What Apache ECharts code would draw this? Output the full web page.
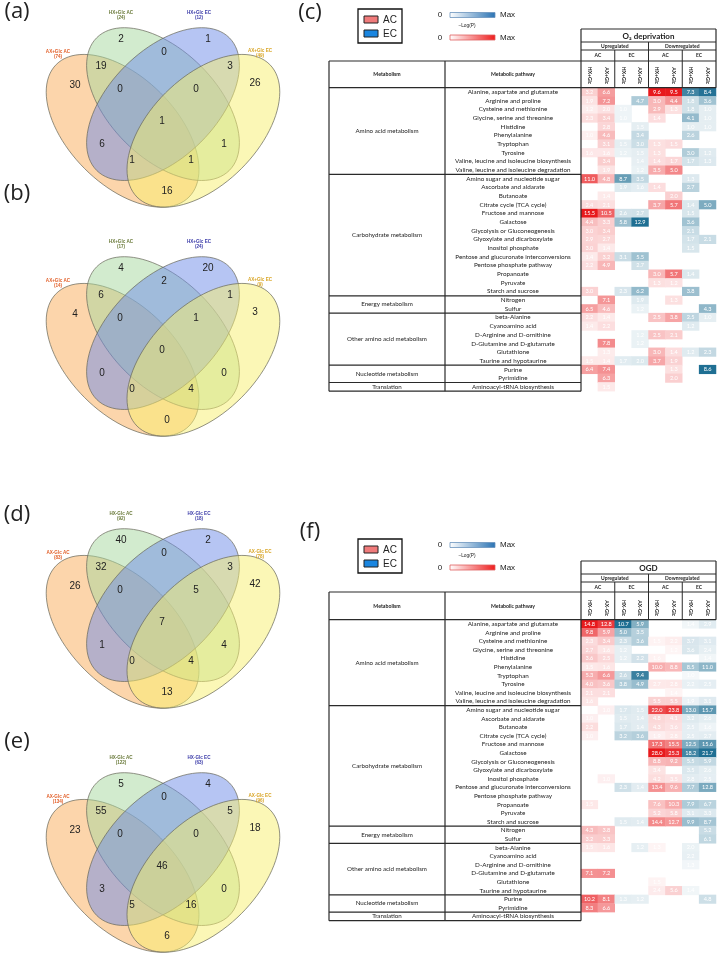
<!DOCTYPE html>
<html><head><meta charset="utf-8">
<script src="https://cdn.jsdelivr.net/npm/echarts@6/dist/echarts.min.js"></script>
<style>html,body{margin:0;padding:0;background:#fff}#c{width:717px;height:955px}</style>
</head><body><div id="c"></div>
<script>
// ---------------- DATA ----------------
const pathways = ['Alanine, aspartate and glutamate','Arginine and proline','Cysteine and methionine','Glycine, serine and threonine','Histidine','Phenylalanine','Tryptophan','Tyrosine','Valine, leucine and isoleucine biosynthesis','Valine, leucine and isoleucine degradation','Amino sugar and nucleotide sugar','Ascorbate and aldarate','Butanoate','Citrate cycle (TCA cycle)','Fructose and mannose','Galactose','Glycolysis or Gluconeogenesis','Glyoxylate and dicarboxylate','Inositol phosphate','Pentose and glucuronate interconversions','Pentose phosphate pathway','Propanoate','Pyruvate','Starch and sucrose','Nitrogen','Sulfur','beta-Alanine','Cyanoamino acid','D-Arginine and D-ornithine','D-Glutamine and D-glutamate','Glutathione','Taurine and hypotaurine','Purine','Pyrimidine','Aminoacyl-tRNA biosynthesis'];
const metabolismGroups = ['Amino acid metabolism','Carbohydrate metabolism','Energy metabolism','Other amino acid metabolism','Nucleotide metabolism','Translation'];
const metabolismGroupSizes = [10,14,2,6,2,1];
const colLabelsO2 = ['HX+Glc','AX+Glc','HX+Glc','AX+Glc','HX+Glc','AX+Glc','HX+Glc','AX+Glc'];
const colLabelsOGD = ['HX-Glc','AX-Glc','HX-Glc','AX-Glc','HX-Glc','AX-Glc','HX-Glc','AX-Glc'];
const _ = null;
// O2 deprivation: -Log(P) values
const o2UpAcHx = [3.2,1.9,1.2,2.3,_,1.0,_,1.6,_,_,11.0,_,_,2.4,15.5,4.4,3.0,2.9,3.0,1.4,2.2,_,_,3.0,_,6.5,2.2,1.4,_,_,_,1.5,6.4,_,_];
const o2UpAcAx = [6.6,7.2,2.0,3.4,2.8,4.6,3.1,1.6,3.4,1.9,4.8,_,1.4,2.1,10.5,3.3,3.4,2.7,1.4,3.2,4.9,_,_,_,7.1,4.6,1.4,2.2,_,7.8,1.3,1.4,7.4,6.3,1.5];
const o2UpEcHx = [_,_,1.0,1.0,_,_,1.5,1.2,_,_,8.7,1.9,_,_,2.6,5.8,_,_,_,3.1,_,_,_,2.3,_,_,_,_,_,_,_,1.7,_,_,_];
const o2UpEcAx = [_,4.7,_,_,1.5,3.4,3.0,1.5,1.4,1.2,3.5,1.6,_,_,2.7,12.9,_,_,_,5.5,2.7,_,_,6.2,1.9,1.2,_,_,1.2,1.2,_,2.0,_,_,_];
const o2DnAcHx = [9.6,3.0,2.9,1.4,_,_,1.3,1.3,1.4,3.5,_,1.4,_,3.7,_,_,_,_,_,_,_,3.0,1.3,_,_,_,2.5,_,2.5,_,3.0,3.7,_,_,_];
const o2DnAcAx = [9.5,4.4,1.3,_,_,_,1.5,_,1.7,5.0,_,_,2.0,5.7,_,_,_,_,_,_,_,5.7,1.2,_,1.3,_,3.8,_,2.1,_,1.4,1.9,1.3,2.0,_];
const o2DnEcHx = [7.3,1.8,1.8,4.1,1.0,2.6,_,3.0,1.7,_,1.3,2.7,_,1.4,1.5,3.6,2.1,1.7,1.5,_,_,1.4,_,3.8,_,_,2.5,1.2,_,_,1.2,_,_,_,_];
const o2DnEcAx = [8.4,3.6,1.0,1.0,1.0,_,_,1.2,1.3,_,_,_,_,5.0,_,_,_,2.1,_,_,_,_,_,_,_,4.3,1.0,_,_,_,2.3,_,8.6,_,_];
// OGD: -Log(P) values
const ogdUpAcHx = [14.8,9.8,2.3,2.7,3.6,1.5,5.3,4.0,2.1,1.6,_,1.0,2.2,1.0,_,_,_,_,_,_,_,1.5,_,_,4.3,3.2,1.5,_,_,7.1,_,_,10.2,8.3,_];
const ogdUpAcAx = [12.8,5.9,3.4,1.6,2.5,1.6,6.6,3.6,2.1,_,1.0,_,_,_,_,_,_,_,1.0,_,_,_,_,_,3.8,3.3,1.6,_,_,7.2,_,_,8.1,6.6,_];
const ogdUpEcHx = [10.7,5.0,2.3,1.2,1.2,_,2.6,3.8,_,_,1.7,1.5,1.7,3.2,_,_,_,_,_,2.3,_,_,_,1.5,_,_,_,_,_,_,_,_,1.3,_,_];
const ogdUpEcAx = [5.9,3.5,3.6,_,2.2,_,9.4,4.9,_,_,1.5,1.4,1.4,3.6,_,_,_,_,_,1.4,_,_,_,1.4,_,_,1.2,_,_,_,_,_,1.2,_,_];
const ogdDnAcHx = [_,_,1.5,_,1.6,10.0,_,2.7,_,5.5,22.0,4.8,4.3,1.9,17.3,28.0,8.8,3.4,4.2,13.4,_,7.6,5.2,14.4,_,_,1.3,_,_,_,1.5,2.4,_,_,_];
const ogdDnAcAx = [_,_,2.2,1.2,_,8.8,_,2.8,1.4,5.5,23.8,4.1,3.6,2.8,15.5,25.3,9.2,_,3.5,9.6,_,10.3,5.8,12.7,_,_,_,_,_,_,_,5.6,_,_,_];
const ogdDnEcHx = [1.4,_,3.7,3.6,_,8.5,1.0,2.2,_,1.9,13.0,3.2,2.5,2.5,12.5,18.2,5.5,3.5,2.8,7.7,_,7.9,3.1,9.9,_,_,2.0,2.2,1.3,_,_,1.4,_,_,_];
const ogdDnEcAx = [2.9,_,3.1,2.4,1.4,11.0,_,2.5,_,3.1,15.7,2.6,1.6,2.7,15.6,21.7,5.9,2.6,2.5,12.8,_,6.7,3.3,8.7,5.2,6.1,_,_,_,_,_,_,4.8,_,_];
// Venn counts, regions: A, B, C, D, AB, BC, CD, ABC, BCD, ABCD, AC, BD, ACD, ABD, AD
const vennCountsA = [30,2,1,26,19,0,3,0,0,1,6,1,1,1,16];
const vennCountsB = [4,4,20,3,6,2,1,0,1,0,0,0,0,4,0];
const vennCountsD = [26,40,2,42,32,0,3,0,5,7,1,4,0,4,13];
const vennCountsE = [23,5,4,18,55,0,5,0,0,46,3,0,5,16,6];
const vennSetNamesO2 = ['AX+Glc AC','HX+Glc AC','HX+Glc EC','AX+Glc EC'];
const vennSetNamesOGD = ['AX-Glc AC','HX-Glc AC','HX-Glc EC','AX-Glc EC'];
const vennSetSizesA = [74,24,12,49];
const vennSetSizesB = [14,17,24,9];
const vennSetSizesD = [83,92,18,78];
const vennSetSizesE = [134,122,63,96];

// ---------------- LAYOUT ----------------
const FONT_T = 'Lato, "Open Sans", sans-serif';
const FONT_V = '"Liberation Sans", Arial, sans-serif';
const graphics = [];
function txt(x,y,t,size,opt){ opt=opt||{};
  graphics.push({type:'text',x:x,y:y,silent:true,z:opt.z||10,style:{text:t,fontSize:size,fontFamily:opt.family||FONT_T,fontWeight:opt.weight||'normal',fill:opt.color||'#222',align:opt.align||'center',verticalAlign:'middle'}});
}
function line(x1,y1,x2,y2,w,c){ graphics.push({type:'line',silent:true,z:20,shape:{x1:x1,y1:y1,x2:x2,y2:y2},style:{stroke:c||'#2a2a2a',lineWidth:w||1.1}}); }

// Venn diagrams
const vennRegionPos = [[75,85],[121,39],[208,39],[255,83],[101,66],[164,52],[230,66],[120,89],[196,89],[162,121],[102,144],[224,144],[132,160],[191,160],[167,191]];
const vennEll = [[122.6,130.8,Math.PI/4],[163,104.1,Math.PI/4],[163,104.1,-Math.PI/4],[203.4,130.8,-Math.PI/4]];
const vennFill = ['rgba(249,172,88,0.5)','rgba(166,216,158,0.5)','rgba(110,140,232,0.5)','rgba(247,240,110,0.5)'];
const vennLabelColor = ['#e2602a','#6a7a3a','#3a3aa8','#d8a423'];
const vennLabelPos = [[58,52],[121,13],[199,13],[260,51]];
const EA = 93.8, EB = 53.6;
function ellPts(cx,cy,a,b,ang){ const p=[]; for(let i=0;i<96;i++){const t=i/96*2*Math.PI; const x=a*Math.cos(t), y=b*Math.sin(t); p.push([cx+x*Math.cos(ang)-y*Math.sin(ang), cy+x*Math.sin(ang)+y*Math.cos(ang)]);} return p; }
const venns = [
  {dy:0, letter:'(a)', ly:12, counts:vennCountsA, names:vennSetNamesO2, sizes:vennSetSizesA},
  {dy:229, letter:'(b)', ly:194, counts:vennCountsB, names:vennSetNamesO2, sizes:vennSetSizesB},
  {dy:501, letter:'(d)', ly:515, counts:vennCountsD, names:vennSetNamesOGD, sizes:vennSetSizesD},
  {dy:745, letter:'(e)', ly:742, counts:vennCountsE, names:vennSetNamesOGD, sizes:vennSetSizesE}
];
venns.forEach(v=>{
  txt(17, v.ly, v.letter, 22, {family:'"Open Sans", Lato, sans-serif'});
  vennEll.forEach((e,i)=>{ graphics.push({type:'polygon',silent:true,z:1,shape:{points:ellPts(e[0],e[1]+v.dy,EA,EB,e[2])},style:{fill:vennFill[i],stroke:'rgba(105,105,90,0.9)',lineWidth:0.8}}); });
  v.counts.forEach((c,i)=>{ txt(vennRegionPos[i][0], vennRegionPos[i][1]+v.dy, String(c), 10, {family:FONT_V}); });
  v.names.forEach((n,i)=>{ txt(vennLabelPos[i][0], vennLabelPos[i][1]+v.dy, n, 4.6, {family:FONT_V, color:vennLabelColor[i], weight:'bold'}); txt(vennLabelPos[i][0], vennLabelPos[i][1]+v.dy+5, '('+v.sizes[i]+')', 4.6, {family:FONT_V, color:vennLabelColor[i], weight:'bold'}); });
});

// Tables
const tables = [
  {letter:'(c)', letterY:13, title:'O₂ deprivation', dy:0, boxTop:29, l1:42, l2:50, top:61, dataTop:87.7, rowH:8.67, cols:[o2UpAcHx,o2UpAcAx,o2UpEcHx,o2UpEcAx,o2DnAcHx,o2DnAcAx,o2DnEcHx,o2DnEcAx], colLabels:colLabelsO2},
  {letter:'(f)', letterY:532, title:'OGD', dy:530, boxTop:561, l1:574, l2:582, top:592, dataTop:619.7, rowH:8.6, cols:[ogdUpAcHx,ogdUpAcAx,ogdUpEcHx,ogdUpEcAx,ogdDnAcHx,ogdDnAcAx,ogdDnEcHx,ogdDnEcAx], colLabels:colLabelsOGD}
];
const XL = 329, X1 = 445, X2 = 581, XR = 716;
const CW = (XR-X2)/8;
const RED = '#e8191c', BLUE = '#1f6f93';
const grids=[], xAxes=[], yAxes=[], series=[], visualMaps=[];
tables.forEach((T,ti)=>{
  const n = pathways.length, bottom = T.dataTop + n*T.rowH;
  txt(310, T.letterY, T.letter, 22, {family:'"Open Sans", Lato, sans-serif'});
  // legend box
  const ly = 9+T.dy;
  graphics.push({type:'rect',silent:true,shape:{x:358,y:ly,width:44,height:34},style:{fill:'#fff',stroke:'#111',lineWidth:1.3}});
  graphics.push({type:'rect',silent:true,shape:{x:364,y:ly+7,width:14,height:7},style:{fill:'#f07b7b',stroke:'#222',lineWidth:1}});
  graphics.push({type:'rect',silent:true,shape:{x:364,y:ly+21,width:14,height:7},style:{fill:'#1a86e0',stroke:'#222',lineWidth:1}});
  txt(383, ly+11, 'AC', 10, {family:FONT_V, align:'left'});
  txt(383, ly+25, 'EC', 10, {family:FONT_V, align:'left'});
  // gradient legends
  graphics.push({type:'rect',silent:true,shape:{x:450,y:ly+3.5,width:45,height:5},style:{fill:new echarts.graphic.LinearGradient(0,0,1,0,[{offset:0,color:'#ffffff'},{offset:1,color:'#2b73b3'}]),stroke:'#6b93bd',lineWidth:0.8}});
  graphics.push({type:'rect',silent:true,shape:{x:450,y:ly+26,width:45,height:5},style:{fill:new echarts.graphic.LinearGradient(0,0,1,0,[{offset:0,color:'#ffffff'},{offset:1,color:'#ee1c1c'}]),stroke:'#e06060',lineWidth:0.8}});
  txt(440, ly+5.5, '0', 8, {family:FONT_V});
  txt(440, ly+28.5, '0', 8, {family:FONT_V});
  txt(500, ly+5.5, 'Max', 8, {family:FONT_V, align:'left'});
  txt(500, ly+28.5, 'Max', 8, {family:FONT_V, align:'left'});
  txt(467, ly+17, '−Log(P)', 4.8, {family:FONT_V});
  // header box
  const bx = T.boxTop;
  txt((X2+XR)/2, (bx+T.l1)/2+0.5, T.title, 8, {weight:'bold'});
  txt(X2+CW*2, (T.l1+T.l2)/2, 'Upregulated', 5, {weight:'bold'});
  txt(X2+CW*6, (T.l1+T.l2)/2, 'Downregulated', 5, {weight:'bold'});
  ['AC','EC','AC','EC'].forEach((s,i)=>txt(X2+CW*(1+2*i), (T.l2+T.top)/2, s, 5, {weight:'bold'}));
  line(X2, bx, XR, bx, 1.2); line(X2, T.l1, XR, T.l1, 1); line(X2, T.l2, XR, T.l2, 1);
  line(XL, T.top, XR, T.top, 1.2); line(XL, T.dataTop, XR, T.dataTop, 1.2);
  line(XR, bx, XR, T.dataTop, 1.2);
  line(X2+CW*4, T.l1, X2+CW*4, T.dataTop, 1);
  line(X2+CW*2, T.l2, X2+CW*2, T.dataTop, 1);
  line(X2+CW*6, T.l2, X2+CW*6, T.dataTop, 1);
  line(XL, T.top, XL, bottom, 1.2); line(X1, T.top, X1, bottom, 1.2); line(X2, bx, X2, bottom, 1.2);
  line(XL, bottom, X2, bottom, 1.2);
  txt((XL+X1)/2, (T.top+T.dataTop)/2, 'Metabolism', 5.2, {weight:'bold'});
  txt((X1+X2)/2, (T.top+T.dataTop)/2, 'Metabolic pathway', 5.2, {weight:'bold'});
  let r0 = 0;
  metabolismGroups.forEach((g,gi)=>{
    const r1 = r0 + metabolismGroupSizes[gi];
    txt((XL+X1)/2, T.dataTop + (r0+r1)/2*T.rowH, g, 6.2);
    if (gi < metabolismGroups.length-1) line(XL, T.dataTop+r1*T.rowH, X2, T.dataTop+r1*T.rowH, 1.2);
    r0 = r1;
  });
  // heatmap grid
  grids.push({left:X2, top:T.dataTop, width:XR-X2, height:n*T.rowH, containLabel:false});
  xAxes.push({type:'category', gridIndex:ti, data:T.colLabels, position:'top', axisLine:{show:false}, axisTick:{show:false}, splitLine:{show:false},
    axisLabel:{interval:0, rotate:90, margin:3.5, fontSize:5, fontWeight:'bold', fontFamily:FONT_T, color:'#222'}});
  yAxes.push({type:'category', gridIndex:ti, data:pathways, inverse:true, axisLine:{show:false}, axisTick:{show:false}, splitLine:{show:false},
    axisLabel:{interval:0, align:'center', margin:(X2-X1)/2, fontSize:6.3, fontFamily:FONT_T, color:'#222'}});
  for (let g=0; g<4; g++){
    const data=[]; let mx=0;
    [2*g, 2*g+1].forEach(c=>{ T.cols[c].forEach((v,r)=>{ if(v!=null){ data.push([c,r,v]); mx=Math.max(mx,v);} }); });
    const si = series.length;
    series.push({type:'heatmap', xAxisIndex:ti, yAxisIndex:ti, data:data, silent:true,
      label:{show:true, formatter:p=>p.value[2].toFixed(1), color:'#fff', fontSize:5.6, fontFamily:FONT_T},
      itemStyle:{borderWidth:0}});
    visualMaps.push({type:'continuous', show:false, seriesIndex:si, dimension:2, min:0, max:mx,
      inRange:{color:['#ffffff', (g%2===0)?RED:BLUE]}});
  }
});

const chart = echarts.init(document.getElementById('c'), null, {renderer:'canvas', width:717, height:955});
chart.setOption({
  animation:false, backgroundColor:'#fff',
  grid:grids, xAxis:xAxes, yAxis:yAxes, visualMap:visualMaps, series:series,
  graphic:{elements:graphics}
});
</script></body></html>
